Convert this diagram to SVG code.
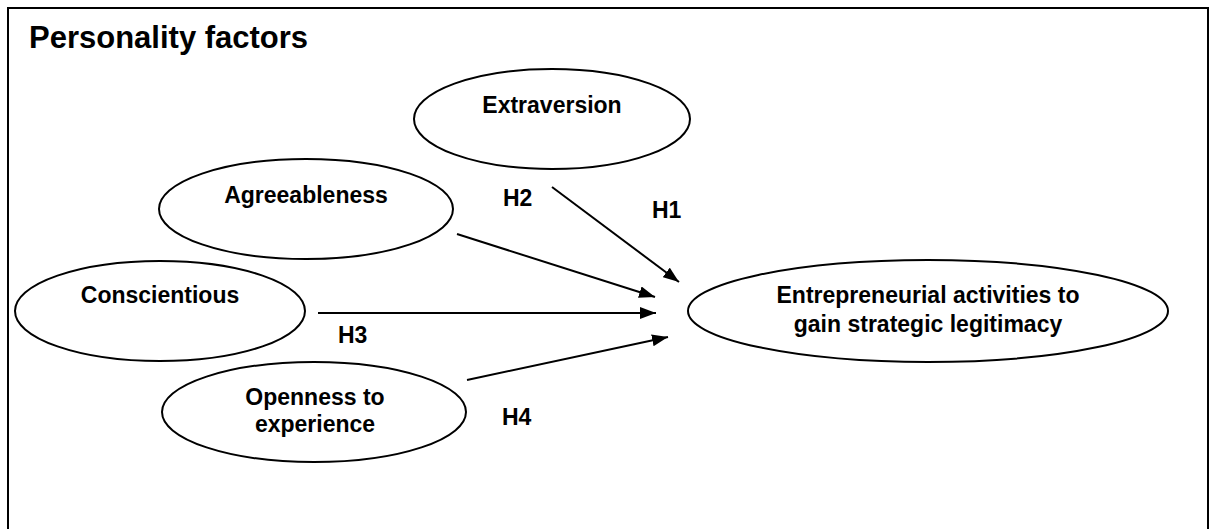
<svg xmlns="http://www.w3.org/2000/svg" width="1216" height="529" viewBox="0 0 1216 529">
<style>
.node ellipse{fill:#fff;stroke:#000;stroke-width:2}
text{font-family:"Liberation Sans",Arial,sans-serif;font-weight:bold;fill:#000}
.lbl{font-size:23px;text-anchor:middle}
.h{font-size:23px}
.title{font-size:31px}
.conn line{stroke:#000;stroke-width:2;marker-end:url(#arr)}
</style>
<defs>
<marker id="arr" viewBox="0 0 16 12" refX="16" refY="6" markerWidth="16" markerHeight="12" markerUnits="userSpaceOnUse" orient="auto">
<path d="M0,0 L16,6 L0,12 Z" fill="#000"/>
</marker>
</defs>
<rect x="0" y="0" width="1216" height="529" fill="#fff"/>
<rect x="8" y="8" width="1200" height="540" fill="none" stroke="#000" stroke-width="2"/>
<text class="title" x="29" y="48">Personality factors</text>
<g id="extraversion" class="node">
<ellipse cx="552" cy="119" rx="138" ry="50"/>
<text class="lbl" x="552" y="113">Extraversion</text>
</g>
<g id="agreeableness" class="node">
<ellipse cx="306" cy="209" rx="147" ry="50"/>
<text class="lbl" x="306" y="203">Agreeableness</text>
</g>
<g id="conscientious" class="node">
<ellipse cx="160" cy="311" rx="145" ry="50"/>
<text class="lbl" x="160" y="303">Conscientious</text>
</g>
<g id="openness" class="node">
<ellipse cx="314" cy="412" rx="152" ry="50"/>
<text class="lbl" x="315" y="405">Openness to</text>
<text class="lbl" x="315" y="432">experience</text>
</g>
<g id="entrepreneurial" class="node">
<ellipse cx="928" cy="311" rx="240" ry="51"/>
<text class="lbl" x="928" y="303">Entrepreneurial activities to</text>
<text class="lbl" x="928" y="332">gain strategic legitimacy</text>
</g>
<g id="connectors" class="conn">
<line x1="552" y1="187" x2="679" y2="282"/>
<line x1="457" y1="234" x2="655" y2="297"/>
<line x1="318" y1="313" x2="656" y2="313"/>
<line x1="467" y1="380" x2="668" y2="337"/>
</g>
<g id="labels">
<text class="h" x="503" y="206">H2</text>
<text class="h" x="652" y="218">H1</text>
<text class="h" x="338" y="343">H3</text>
<text class="h" x="502" y="425">H4</text>
</g>
</svg>
